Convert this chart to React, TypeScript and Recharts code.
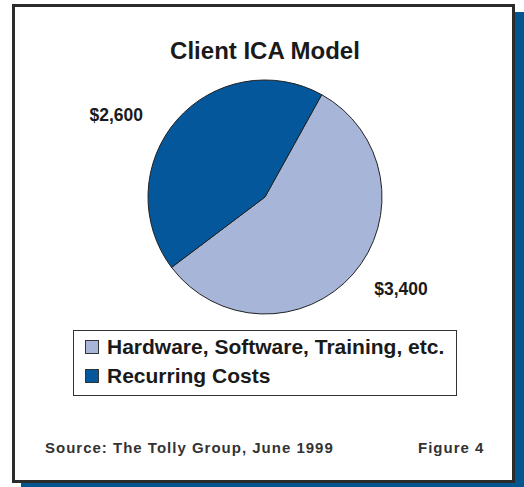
import { Cell, Legend, Pie, PieChart } from "recharts";

const categories = ["Hardware, Software, Training, etc.", "Recurring Costs"];
const costs = [3400, 2600];
const costLabels = ["$3,400", "$2,600"];
const colors = ["#A6B5D8", "#03579A"];

const data = categories.map((name, i) => ({ name, value: costs[i], label: costLabels[i], fill: colors[i] }));

const FONT = "'Liberation Sans', Arial, Helvetica, sans-serif";
const RAD = Math.PI / 180;

// labels sit outside the pie, nudged a little off the slice middle
const labelShift = [
  { angle: 7, radius: 47 },
  { angle: 12, radius: 53 },
];

function renderLabel(props: any) {
  const { cx, cy, outerRadius, midAngle, index } = props;
  const s = labelShift[index];
  const a = (midAngle + s.angle) * RAD;
  const r = outerRadius + s.radius;
  return (
    <text
      x={cx + r * Math.cos(a)}
      y={cy - r * Math.sin(a)}
      textAnchor="middle"
      dominantBaseline="central"
      fontFamily={FONT}
      fontWeight="bold"
      fontSize={17.5}
      fill="#1a1a1a"
    >
      {data[index].label}
    </text>
  );
}

function LegendBox() {
  return (
    <div
      style={{
        width: 384,
        height: 66,
        boxSizing: "border-box",
        border: "1.5px solid #333",
        background: "#fff",
        padding: "1px 0 0 11px",
        fontFamily: FONT,
        fontWeight: "bold",
        fontSize: 21,
        color: "#1a1a1a",
        textAlign: "left",
      }}
    >
      {data.map((d) => (
        <div key={d.name} style={{ display: "flex", alignItems: "center", height: 29 }}>
          <span
            style={{
              display: "inline-block",
              width: 12,
              height: 12,
              border: "1px solid #333",
              background: d.fill,
              marginRight: 8,
            }}
          />
          <span>{d.name}</span>
        </div>
      ))}
    </div>
  );
}

const footStyle = {
  position: "absolute" as const,
  top: 439,
  fontFamily: FONT,
  fontWeight: "bold",
  fontSize: 15,
  letterSpacing: 1,
  color: "#333",
};

export default function App() {
  return (
    <div style={{ position: "absolute", left: 0, top: 0, width: 524, height: 487, background: "#fff" }}>
      <div style={{ position: "absolute", left: 21, top: 12, width: 503, height: 475, background: "#02558F" }} />
      <div
        style={{
          position: "absolute",
          left: 12,
          top: 4,
          width: 503,
          height: 479,
          boxSizing: "border-box",
          border: "3px solid #2b2b2b",
          background: "#fff",
        }}
      />
      <div
        style={{
          position: "absolute",
          left: 0,
          top: 37,
          width: 530,
          textAlign: "center",
          fontFamily: FONT,
          fontWeight: "bold",
          fontSize: 24,
          color: "#1a1a1a",
        }}
      >
        Client ICA Model
      </div>
      <div style={{ position: "absolute", left: 0, top: 0 }}>
        <PieChart width={524} height={487} margin={{ top: 0, right: 0, bottom: 0, left: 0 }}>
          <Pie
            data={data}
            dataKey="value"
            nameKey="name"
            cx={265}
            cy={197}
            outerRadius={117}
            startAngle={61}
            endAngle={-299}
            stroke="#222"
            strokeWidth={1}
            label={renderLabel}
            labelLine={false}
            isAnimationActive={false}
          >
            {data.map((d, i) => (
              <Cell key={i} fill={d.fill} />
            ))}
          </Pie>
          <Legend
            content={() => <LegendBox />}
            wrapperStyle={{ position: "absolute", left: 73, top: 330, width: 384, height: 66 }}
          />
        </PieChart>
      </div>
      <div style={{ ...footStyle, left: 45 }}>Source: The Tolly Group, June 1999</div>
      <div style={{ ...footStyle, left: 418 }}>Figure 4</div>
    </div>
  );
}
